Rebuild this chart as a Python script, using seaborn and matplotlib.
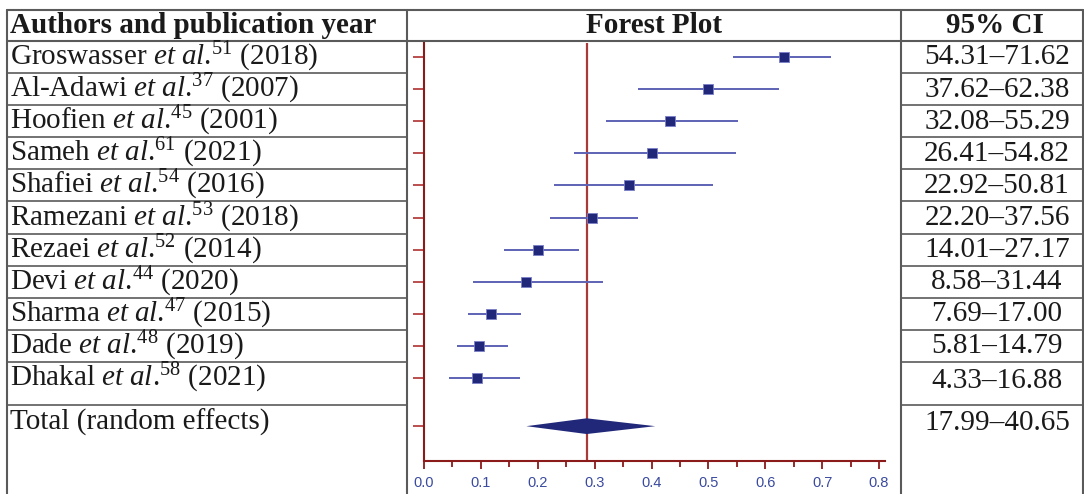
import numpy as np
import pandas as pd
import matplotlib
matplotlib.use("Agg")
import matplotlib.pyplot as plt
import matplotlib.transforms as mtransforms
from matplotlib.ticker import MultipleLocator, FormatStrFormatter
import seaborn as sns

# Study data (proportions, 95% CI)
authors = ["Groswasser", "Al-Adawi", "Hoofien", "Sameh", "Shafiei", "Ramezani",
           "Rezaei", "Devi", "Sharma", "Dade", "Dhakal"]
refs = [51, 37, 45, 61, 54, 53, 52, 44, 47, 48, 58]
years = [2018, 2007, 2001, 2021, 2016, 2018, 2014, 2020, 2015, 2019, 2021]
estimate = [0.633, 0.500, 0.433, 0.401, 0.361, 0.295, 0.200, 0.179, 0.118, 0.097, 0.094]
ci_low = [0.5431, 0.3762, 0.3208, 0.2641, 0.2292, 0.2220, 0.1401, 0.0858, 0.0769, 0.0581, 0.0433]
ci_high = [0.7162, 0.6238, 0.5529, 0.5482, 0.5081, 0.3756, 0.2717, 0.3144, 0.1700, 0.1479, 0.1688]

total_label = "Total (random effects)"
total_est = 0.286
total_low = 0.1799
total_high = 0.4065

sns.set_theme(style="white")
plt.rcParams["font.family"] = ["Liberation Serif", "DejaVu Serif"]
plt.rcParams["mathtext.fontset"] = "custom"
plt.rcParams["mathtext.rm"] = "Liberation Serif"
plt.rcParams["mathtext.it"] = "Liberation Serif:italic"
plt.rcParams["mathtext.bf"] = "Liberation Serif:bold"
plt.rcParams["mathtext.default"] = "regular"

df = pd.DataFrame({"author": authors, "ref": refs, "year": years,
                   "est": estimate, "lo": ci_low, "hi": ci_high})
df["row"] = np.arange(len(df))
total_row = len(df) + 0.5

NAVY = "#21287a"
CI_BLUE = "#5d63b4"
DARK_RED = "#8b1a1a"
REF_RED = "#a83a3a"
GRID = "#5a5a5a"
TXT = "#1a1a1a"
FS = 21

W, H = 1084, 494
fig = plt.figure(figsize=(W / 100, H / 100), dpi=100)

# background axes in pixel units for the table
tab = fig.add_axes([0, 0, 1, 1])
tab.set_xlim(0, W)
tab.set_ylim(H, 0)
tab.axis("off")

# forest plot axes
ax = fig.add_axes([424 / W, (H - 461) / H, (885 - 424) / W, (461 - 43) / H])
ax.set_facecolor("none")

# CI whiskers and squares
ax.hlines(df["row"], df["lo"], df["hi"], color=CI_BLUE, lw=1.4, zorder=2)
sns.scatterplot(data=df, x="est", y="row", marker="s", s=62, color=NAVY,
                edgecolor="#7a80c8", linewidth=0.6, zorder=3, ax=ax, legend=False)

# pooled diamond
dh = 0.245
ax.fill([total_low, total_est, total_high, total_est],
        [total_row, total_row - dh, total_row, total_row + dh],
        color=NAVY, lw=0, zorder=3)
ax.axvline(total_est, color=REF_RED, lw=1.6, zorder=1)

ax.set_xlim(0, 0.8105)
ax.set_ylim(12.585, -0.436)
ax.xaxis.set_major_locator(MultipleLocator(0.1))
ax.xaxis.set_minor_locator(MultipleLocator(0.05))
ax.xaxis.set_major_formatter(FormatStrFormatter("%.1f"))
ax.set_yticks(list(df["row"]) + [total_row])
ax.set_yticklabels([])
ax.set_xlabel("")
ax.set_ylabel("")
for s in ["top", "right"]:
    ax.spines[s].set_visible(False)
for s in ["left", "bottom"]:
    ax.spines[s].set_color(DARK_RED)
    ax.spines[s].set_linewidth(1.5)
ax.tick_params(axis="y", which="major", direction="out", length=8, width=1.2,
               color="#b03030", left=True)
ax.tick_params(axis="x", which="major", direction="out", length=6, width=1.3,
               color=DARK_RED, bottom=True, labelsize=10.5, labelcolor="#3a4a9e", pad=5)
ax.tick_params(axis="x", which="minor", direction="out", length=4.5, width=1.3,
               color=DARK_RED, bottom=True)
for lab in ax.get_xticklabels():
    lab.set_fontfamily(["Liberation Sans", "DejaVu Sans"])

# table: x in pixels, y tied to the forest rows
blend = mtransforms.blended_transform_factory(tab.transData, ax.transData)
x_left, x_sep1, x_sep2, x_right = 7, 407, 901, 1083
px_row = 32.1  # pixels per row

# outer / column lines
tab.plot([x_left, x_right], [10, 10], color=GRID, lw=1.5)
for xv in [x_left, x_sep1, x_sep2, x_right]:
    tab.plot([xv, xv], [10, H], color=GRID, lw=1.5)
tab.plot([x_left, x_right], [-0.5, -0.5], color=GRID, lw=1.5, transform=blend)
row_lines = [r + 0.5 for r in df["row"][:-1]] + [10.85]
for yv in row_lines:
    tab.plot([x_left, x_sep1], [yv, yv], color=GRID, lw=1.2, transform=blend)
    tab.plot([x_sep2, x_right], [yv, yv], color=GRID, lw=1.2, transform=blend)

# header
hy = 33
tab.text(10, hy, "Authors and publication year", fontsize=FS, fontweight="bold",
         ha="left", va="baseline", color=TXT)
tab.text((x_sep1 + x_sep2) / 2, hy, "Forest Plot", fontsize=FS, fontweight="bold",
         ha="center", va="baseline", color=TXT)
tab.text(995, hy, "95% CI", fontsize=FS, fontweight="bold",
         ha="center", va="baseline", color=TXT)

# study rows
last = len(df) - 1
for _, r in df.iterrows():
    label = f"{r['author']} $\\mathit{{et\\ al}}$.$^{{{r['ref']}}}$ ({r['year']})"
    tab.text(10, r["row"] + 8 / px_row, label, fontsize=FS, ha="left", va="baseline",
             color=TXT, transform=blend)
    ci_txt = f"{r['lo'] * 100:.2f}\u2013{r['hi'] * 100:.2f}"
    yoff = (10 if r["row"] == last else 7.5) / px_row
    tab.text(997, r["row"] + yoff, ci_txt, fontsize=FS, ha="center", va="baseline",
             color=TXT, transform=blend)

tab.text(10, total_row + 4 / px_row, total_label, fontsize=FS, ha="left", va="baseline",
         color=TXT, transform=blend)
tab.text(997, total_row + 4 / px_row, f"{total_low * 100:.2f}\u2013{total_high * 100:.2f}",
         fontsize=FS, ha="center", va="baseline", color=TXT, transform=blend)

fig.savefig("out.png", dpi=100)
